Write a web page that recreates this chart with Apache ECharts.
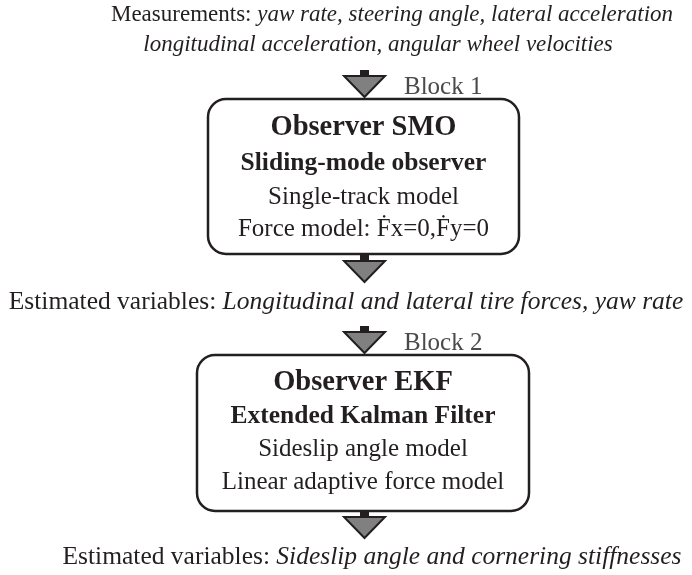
<!DOCTYPE html>
<html>
<head>
<meta charset="UTF-8">
<title>Observer structure</title>
<script src="https://cdn.jsdelivr.net/npm/echarts@6/dist/echarts.min.js"></script>
<style>html,body{margin:0;background:#fff}#chart{width:692px;height:575px}</style>
</head>
<body>
<div id="chart"></div>
<script>
// texts of the diagram
var inputLabel = 'Measurements: ';
var inputSignals = ['yaw rate, steering angle, lateral acceleration', 'longitudinal acceleration, angular wheel velocities'];
var blockNames = ['Block 1', 'Block 2'];
var observerTitles = ['Observer SMO', 'Observer EKF'];
var observerKinds = ['Sliding-mode observer', 'Extended Kalman Filter'];
var observerModels = [['Single-track model', 'Force model: \u1E1Ex=0,\u1E1Ey=0'], ['Sideslip angle model', 'Linear adaptive force model']];
var outputLabel = 'Estimated variables: ';
var outputVars = ['Longitudinal and lateral tire forces, yaw rate', 'Sideslip angle and cornering stiffnesses'];

// layout, in pixel-like units of a hidden 692 x 575 plane
var FONT = '"Liberation Serif", "DejaVu Serif", serif';
var INK = '#231f20';
var boxRects = [[208, 99, 519, 254], [197, 355, 529, 511]];
var boxLineY = [[128, 163, 197, 229], [383, 416, 449, 482]];
var arrowTops = [70, 255, 326, 511];
var inputY = [15, 45], inputX = [392, 378];
var outputY = [302, 557], outputX = [346, 372];
var blockLabelY = [87, 343];

var chart = echarts.init(document.getElementById('chart'));

function st(size, extra) {
  var s = { fontFamily: FONT, fontSize: size, fill: INK };
  for (var k in extra) s[k] = extra[k];
  return s;
}
var rich = {
  mn: st(23), mi: st(23, { fontStyle: 'italic' }),
  en: st(25.5), ei: st(25.5, { fontStyle: 'italic' }),
  n: st(25),
  t: st(28.5, { fontWeight: 'bold' }),
  b: st(25.5, { fontWeight: 'bold' }),
  g: st(25, { fill: '#4a4a4a' })
};

// text items: [x, y, rich text, align]
var texts = [];
inputSignals.forEach(function (s, k) {
  texts.push([inputX[k], inputY[k], (k === 0 ? '{mn|' + inputLabel + '}' : '') + '{mi|' + s + '}', 'center']);
});
blockNames.forEach(function (name, k) {
  var cx = (boxRects[k][0] + boxRects[k][2]) / 2;
  texts.push([404, blockLabelY[k], '{g|' + name + '}', 'left']);
  texts.push([cx, boxLineY[k][0], '{t|' + observerTitles[k] + '}', 'center']);
  texts.push([cx, boxLineY[k][1], '{b|' + observerKinds[k] + '}', 'center']);
  observerModels[k].forEach(function (m, j) {
    texts.push([cx, boxLineY[k][2 + j], '{n|' + m + '}', 'center']);
  });
});
outputVars.forEach(function (s, k) {
  texts.push([outputX[k], outputY[k], '{en|' + outputLabel + '}{ei|' + s + '}', 'center']);
});

chart.setOption({
  animation: false,
  grid: { left: 0, right: 0, top: 0, bottom: 0 },
  xAxis: { type: 'value', min: 0, max: 692, show: false },
  yAxis: { type: 'value', min: 0, max: 575, inverse: true, show: false },
  series: [
    {
      type: 'custom',
      data: boxRects,
      renderItem: function (params, api) {
        var p0 = api.coord([api.value(0), api.value(1)]);
        var p1 = api.coord([api.value(2), api.value(3)]);
        return {
          type: 'rect',
          shape: { x: p0[0], y: p0[1], width: p1[0] - p0[0], height: p1[1] - p0[1], r: 18 },
          style: { fill: '#fff', stroke: INK, lineWidth: 2.5 }
        };
      }
    },
    {
      type: 'custom',
      z: 3,
      data: arrowTops.map(function (t) { return [364.5, t]; }),
      renderItem: function (params, api) {
        var cx = api.value(0), top = api.value(1);
        var s0 = api.coord([cx - 4.5, top]), s1 = api.coord([cx + 4.5, top + 9]);
        return {
          type: 'group',
          children: [
            { type: 'rect', shape: { x: s0[0], y: s0[1], width: s1[0] - s0[0], height: s1[1] - s0[1] }, style: { fill: INK } },
            {
              type: 'polygon',
              shape: { points: [api.coord([cx - 20.5, top + 6]), api.coord([cx + 20.5, top + 6]), api.coord([cx, top + 27])] },
              style: { fill: '#808080', stroke: INK, lineWidth: 2, lineJoin: 'miter' }
            }
          ]
        };
      }
    },
    {
      type: 'custom',
      z: 4,
      data: texts,
      renderItem: function (params, api) {
        var d = texts[params.dataIndex];
        var p = api.coord([d[0], d[1]]);
        return {
          type: 'text',
          x: p[0], y: p[1],
          style: { text: d[2], rich: rich, align: d[3], verticalAlign: 'middle' }
        };
      }
    }
  ]
});
</script>
</body>
</html>
